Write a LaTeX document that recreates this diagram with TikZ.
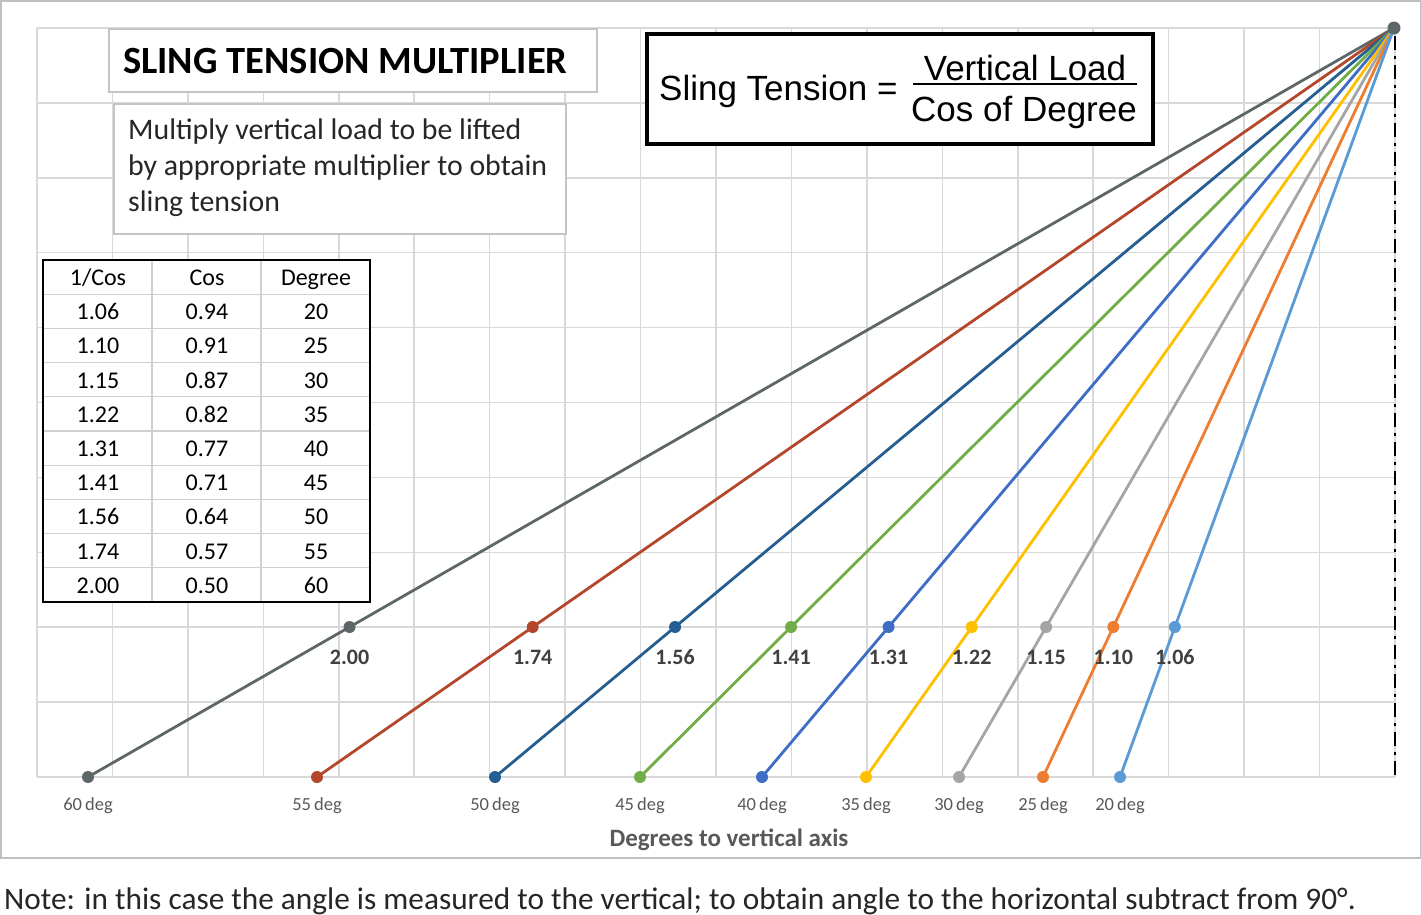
\documentclass[tikz,border=0pt]{standalone}
\usepackage{fontspec}
\setmainfont{Carlito}
\newfontfamily\arialfont{Liberation Sans}
\usetikzlibrary{calc}
\definecolor{gridc}{HTML}{D9D9D9}
\definecolor{framec}{HTML}{BFBFBF}
\definecolor{boxc}{HTML}{C4C4C4}
\definecolor{tlinec}{HTML}{D0D0D0}
\definecolor{vallabc}{HTML}{404040}
\definecolor{deglabc}{HTML}{595959}
\definecolor{notec}{HTML}{262626}
\definecolor{c60}{HTML}{5E6767}
\definecolor{c55}{HTML}{B4472B}
\definecolor{c50}{HTML}{255E91}
\definecolor{c45}{HTML}{70AD47}
\definecolor{c40}{HTML}{3D6DC4}
\definecolor{c35}{HTML}{FFC000}
\definecolor{c30}{HTML}{A5A5A5}
\definecolor{c25}{HTML}{ED7D31}
\definecolor{c20}{HTML}{5B9BD5}
\tikzset{
  gridline/.style={draw=gridc, line width=1.5pt},
  sling/.style={line width=2.8pt},
  dot/.style={circle, inner sep=0pt, minimum size=12pt},
  vallab/.style={font=\bfseries\fontsize{22}{26}\selectfont, text=vallabc, inner sep=0pt},
  deglab/.style={font=\fontsize{18.5}{22}\selectfont, text=deglabc, inner sep=0pt},
  cell/.style={font=\fontsize{24}{28}\selectfont, inner sep=0pt, anchor=base},
  tline/.style={draw=tlinec, line width=1.2pt},
  whitebox/.style={draw=boxc, line width=2pt, fill=white, anchor=north west, inner sep=0pt},
}
\begin{document}
\begin{tikzpicture}[x=1pt,y=-1pt]
\useasboundingbox (0,0) rectangle (1421,914);
\fill[white] (0,0) rectangle (1421,914);
% outer frame
\draw[framec, line width=1.5pt] (1,1) rectangle (1421,858);
% grid
\foreach \i in {0,...,18} \draw[gridline] ({37+\i*75.444},28) -- ({37+\i*75.444},777);
\foreach \j in {0,...,10} \draw[gridline] (37,{28+\j*74.9}) -- (1395,{28+\j*74.9});
% vertical axis
\coordinate (vtop) at (1395,36);
\coordinate (vbot) at (1395,777);
\draw[black, line width=2.6pt, dash pattern=on 14pt off 6pt on 3pt off 6pt] (vtop) -- (vbot);
% sling lines
\coordinate (apex) at (1394,28);
\foreach \n/\x/\v in {60/88/2.00,55/317/1.74,50/495/1.56,45/640/1.41,40/762/1.31,35/866/1.22,30/959/1.15,25/1043/1.10,20/1120/1.06}{
  \node[dot, fill=c\n] (bd\n) at (\x,777) {};
  \node[dot, fill=c\n] (md\n) at ($(bd\n.center)!0.20027!(apex)$) {};
  \draw[sling, c\n] (bd\n.center) -- (apex);
  \node[vallab] (v\n) at ([yshift=-30pt]md\n.center) {\v};
  \node[deglab] (d\n) at ([yshift=-29pt]bd\n.center) {\n\,deg};
}
\node[dot, fill=c60, minimum size=13pt] (apexdot) at (apex) {};
% axis title
\node[font=\bfseries\fontsize{25}{30}\selectfont, text=deglabc, inner sep=0pt] (axtitle) at (729,840) {Degrees to vertical axis};
% title box
\node[whitebox, minimum width=488pt, minimum height=63pt] (tbox) at (108,28) {};
\node[anchor=base west, inner sep=0pt, font=\bfseries\fontsize{38.5}{42}\selectfont] (title) at (123,73) {SLING TENSION MULTIPLIER};
% description box
\node[whitebox, minimum width=452pt, minimum height=130pt] (dbox) at (113,103) {};
\node[anchor=base west, inner sep=0pt, font=\fontsize{29.8}{36}\selectfont, text=notec] (d1) at (128,139) {Multiply vertical load to be lifted};
\node[anchor=base west, inner sep=0pt, font=\fontsize{29.8}{36}\selectfont, text=notec] (d2) at (128,175) {by appropriate multiplier to obtain};
\node[anchor=base west, inner sep=0pt, font=\fontsize{29.8}{36}\selectfont, text=notec] (d3) at (128,211) {sling tension};
% table
\node[fill=white, anchor=north west, inner sep=0pt, minimum width=327pt, minimum height=342pt] (tab) at (43,260) {};
\foreach \r in {1,...,9} \draw[tline] (44,{260+\r*34.2}) -- (369,{260+\r*34.2});
\draw[tline] (152,261) -- (152,601);
\draw[tline] (261,261) -- (261,601);
\draw[black, line width=2pt] (tab.north west) rectangle (tab.south east);
\foreach \r/\a/\b/\c in {0/1\slash Cos/Cos/Degree,1/1.06/0.94/20,2/1.10/0.91/25,3/1.15/0.87/30,4/1.22/0.82/35,5/1.31/0.77/40,6/1.41/0.71/45,7/1.56/0.64/50,8/1.74/0.57/55,9/2.00/0.50/60}{
  \node[cell] (ta\r) at (98,{285.5+\r*34.2}) {\a};
  \node[cell] (tb\r) at (207,{285.5+\r*34.2}) {\b};
  \node[cell] (tc\r) at (316,{285.5+\r*34.2}) {\c};
}
% formula box
\node[draw=black, line width=4pt, fill=white, anchor=north west, inner sep=0pt, minimum width=506pt, minimum height=110pt] (fbox) at (645,32) {};
\node[anchor=base west, inner sep=0pt, font=\arialfont\fontsize{35}{40}\selectfont] (st) at (659,100) {Sling Tension =};
\node[anchor=base, inner sep=0pt, font=\arialfont\fontsize{35}{40}\selectfont] (vl) at (1025,80) {Vertical Load};
\node[anchor=base, inner sep=0pt, font=\arialfont\fontsize{35}{40}\selectfont] (cd) at (1024,121) {Cos of Degree};
\coordinate (fl) at (913,84);
\coordinate (fr) at (1137,84);
\draw[black, line width=1.5pt] (fl) -- (fr);
% note
\node[anchor=base west, inner sep=0pt, font=\fontsize{31.3}{34}\selectfont, text=notec] (note) at (4,909) {Note: in this case the angle is measured to the vertical; to obtain angle to the horizontal subtract from 90°.};
\end{tikzpicture}
\end{document}
